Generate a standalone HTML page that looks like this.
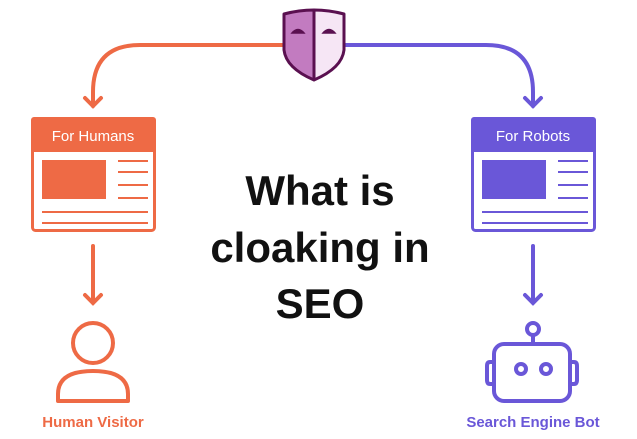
<!DOCTYPE html>
<html><head><style>
body{margin:0;background:#fff;}
svg{display:block;}
text{font-family:"Liberation Sans",sans-serif;}
</style></head><body>
<svg width="637" height="439" viewBox="0 0 637 439">
<g fill="none" stroke-width="4" stroke-linecap="round">
<path d="M284 45 H140 Q93 45 93 92 V106" stroke="#ee6a45"/>
<path d="M85 98 L93 106 L101 98" stroke="#ee6a45"/>
<path d="M344 45 H486 Q533 45 533 92 V106" stroke="#6a57d8"/>
<path d="M525 98 L533 106 L541 98" stroke="#6a57d8"/>
<path d="M93 246 V303 M85 295 L93 303 L101 295" stroke="#ee6a45"/>
<path d="M533 246 V303 M525 295 L533 303 L541 295" stroke="#6a57d8"/>
</g>
<!-- mask -->
<path d="M314 10 Q294 10 284 14 V50 Q286 68 314 80 Z" fill="#c27bc0"/>
<path d="M314 10 Q334 10 344 14 V50 Q342 68 314 80 Z" fill="#f6e6f5"/>
<path d="M284 14 Q314 6 344 14 V50 Q342 68 314 80 Q286 68 284 50 Z M314 9 V80" fill="none" stroke="#5a1050" stroke-width="3" stroke-linejoin="round"/>
<path d="M292 33 Q298 26 304 33 Z M323 33 Q329 26 335 33 Z" fill="#5a1050" stroke="#5a1050" stroke-width="1.5"/>
<!-- left card -->
<rect x="32.5" y="118.5" width="122" height="112" rx="3" fill="#fff" stroke="#ee6a45" stroke-width="3"/>
<rect x="31" y="117" width="125" height="35" rx="3" fill="#ee6a45"/>
<text x="93" y="141" font-size="15" fill="#fff" text-anchor="middle">For Humans</text>
<rect x="42" y="160" width="64" height="39" fill="#ee6a45"/>
<g stroke="#ee6a45" stroke-width="2"><path d="M118 161H148M118 172H148M118 185H148M118 198H148M42 212H148M42 223H148"/></g>
<!-- right card -->
<rect x="472.5" y="118.5" width="122" height="112" rx="3" fill="#fff" stroke="#6a57d8" stroke-width="3"/>
<rect x="471" y="117" width="125" height="35" rx="3" fill="#6a57d8"/>
<text x="533" y="141" font-size="15" fill="#fff" text-anchor="middle">For Robots</text>
<rect x="482" y="160" width="64" height="39" fill="#6a57d8"/>
<g stroke="#6a57d8" stroke-width="2"><path d="M558 161H588M558 172H588M558 185H588M558 198H588M482 212H588M482 223H588"/></g>
<!-- title -->
<g font-size="42" fill="#111" text-anchor="middle" font-weight="bold">
<text x="320" y="205">What is</text>
<text x="320" y="262">cloaking in</text>
<text x="320" y="318">SEO</text>
</g>
<!-- person -->
<circle cx="93" cy="343" r="20" fill="none" stroke="#ee6a45" stroke-width="4"/>
<path d="M58 401 V394 Q58 371 93 371 Q128 371 128 394 V401 Z" fill="none" stroke="#ee6a45" stroke-width="4" stroke-linejoin="round"/>
<text x="93" y="427" font-size="15" font-weight="bold" fill="#ee6a45" text-anchor="middle">Human Visitor</text>
<!-- robot -->
<g fill="none" stroke="#6a57d8" stroke-width="4">
<circle cx="533" cy="329" r="6"/>
<path d="M533 335V344"/>
<rect x="494" y="344" width="76" height="57" rx="10"/>
<path d="M494 362H490Q487 362 487 366V380Q487 384 490 384H494M570 362H574Q577 362 577 366V380Q577 384 574 384H570"/>
<circle cx="521" cy="369" r="5"/><circle cx="546" cy="369" r="5"/>
</g>
<text x="533" y="427" font-size="15" font-weight="bold" fill="#6a57d8" text-anchor="middle">Search Engine Bot</text>
</svg>
</body></html>
